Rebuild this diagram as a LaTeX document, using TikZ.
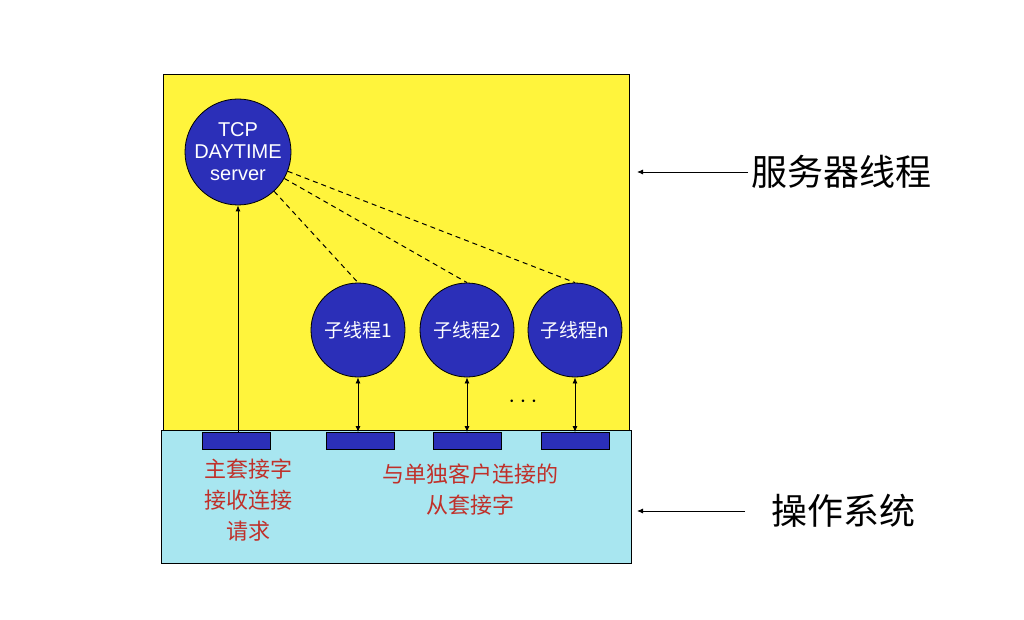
\documentclass[tikz,border=0pt]{standalone}
\usepackage{fontspec}
\setmainfont{Liberation Sans}
\newfontfamily\cjk{Noto Sans CJK SC}
\usetikzlibrary{arrows.meta}
\definecolor{yel}{HTML}{FFF43C}
\definecolor{cyn}{HTML}{A8E6F0}
\definecolor{blu}{HTML}{2B2FB8}
\definecolor{redt}{HTML}{C0302A}
\begin{document}
\begin{tikzpicture}[x=1pt,y=-1pt,line width=0.8pt,
  circ/.style={circle,draw=black,fill=blu,text=white,minimum size=94pt,inner sep=0pt,font=\cjk\fontsize{19}{21}\selectfont},
  sock/.style={draw=black,fill=blu,minimum width=68pt,minimum height=17pt,inner sep=0pt},
  lab/.style={font=\cjk\fontsize{22}{31}\selectfont,text=redt,align=center},
  side/.style={font=\cjk\fontsize{36}{38}\selectfont},
  dsh/.style={dash pattern=on 5pt off 4pt,line width=1pt},
  arr/.style={-{Latex[length=6pt,width=5pt]}},
  darr/.style={{Latex[length=6pt,width=5pt]}-{Latex[length=6pt,width=5pt]}}]
\useasboundingbox (0,0) rectangle (1024,620);
\fill[white] (0,0) rectangle (1024,620);
\draw[fill=yel] (163,74) rectangle (629,430);
\draw[fill=cyn] (161,430) rectangle (631,563);
\node[circ,minimum size=106pt,font=\fontsize{20}{22}\selectfont,align=center] (tcp) at (238,152) {TCP\\DAYTIME\\server};
\node[circ] (c1) at (358,330) {子线程1};
\node[circ] (c2) at (467,330) {子线程2};
\node[circ] (cn) at (575,330) {子线程n};
\node[sock] (s0) at (236,441) {};
\node[sock] (s1) at (360,441) {};
\node[sock] (s2) at (467,441) {};
\node[sock] (sn) at (575,441) {};
\draw[dsh] (tcp) -- (c1.north);
\draw[dsh] (tcp) -- (c2.north);
\draw[dsh] (tcp) -- (cn.north);
\draw[arr] (s0.north -| tcp) -- (tcp.south);
\draw[darr] (s1.north -| c1) -- (c1.south);
\draw[darr] (s2.north -| c2) -- (c2.south);
\draw[darr] (sn.north -| cn) -- (cn.south);
\node[font=\fontsize{24}{24}\selectfont] (dots) at (523,402) {$\cdots$};
\node[lab] (l1) at (248,500) {主套接字\\接收连接\\请求};
\node[lab] (l2) at (470,490) {与单独客户连接的\\从套接字};
\node[side,anchor=west] (t1) at (748,172) {服务器线程};
\node[side,anchor=west] (t2) at (768,511) {操作系统};
\draw[arr] (t1.west) -- (637,172);
\draw[arr] (745,511) -- (637,511);
\end{tikzpicture}
\end{document}
